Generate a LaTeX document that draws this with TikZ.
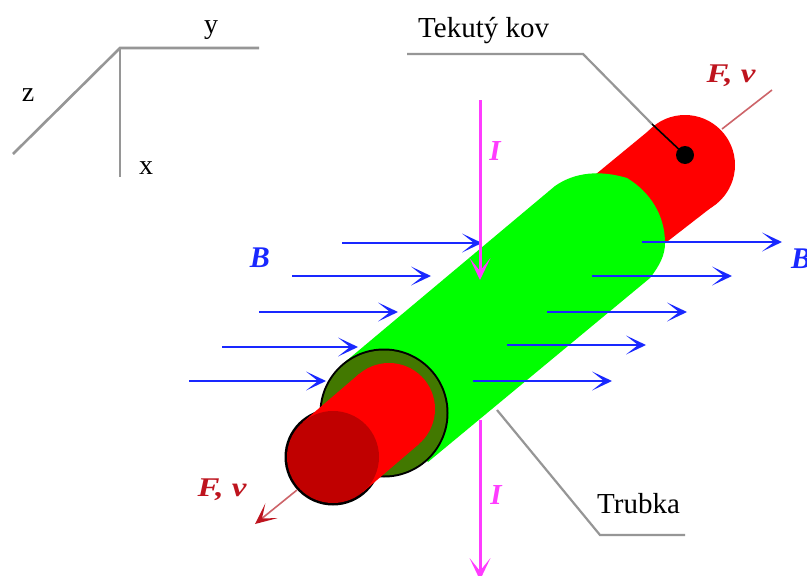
\documentclass[tikz,border=0pt]{standalone}
\usepackage{fontspec}
\setmainfont{Liberation Serif}
\usetikzlibrary{arrows.meta}
\definecolor{bluefield}{RGB}{25,40,255}
\definecolor{pinkcur}{RGB}{255,60,255}
\definecolor{darkgreenring}{RGB}{66,120,0}
\definecolor{darkredend}{RGB}{192,0,0}
\definecolor{forcered}{RGB}{190,20,30}
\definecolor{forceline}{RGB}{205,100,105}
\definecolor{leader}{RGB}{150,150,150}
\tikzset{
  fieldarrow/.style={draw=bluefield,line width=2.6pt,-{Stealth[length=20pt,width=19pt,inset=12pt,line width=0pt]}},
  current/.style={draw=pinkcur,line width=3pt},
  currenttip/.style={-{Stealth[length=22pt,width=21pt,inset=13pt,line width=0pt]}},
  leaderline/.style={draw=leader,line width=2.2pt},
  axisline/.style={draw=leader,line width=2.6pt},
  forcearrow/.style={draw=forceline,line width=1.6pt},
  forcetip/.style={-{Stealth[length=21pt,width=19pt,inset=12pt,line width=0pt,color=forcered]}},
  txt/.style={font=\fontsize{29}{31}\selectfont,text=black,inner sep=0pt},
  axlabel/.style={font=\fontsize{28}{30}\selectfont,text=black,inner sep=0pt,anchor=base},
  fieldlabel/.style={font=\fontsize{30}{32}\selectfont\bfseries\itshape,text=bluefield,inner sep=0pt},
  curlabel/.style={font=\fontsize{29}{31}\selectfont\bfseries\itshape,text=pinkcur,inner sep=0pt},
  forcelabel/.style={font=\fontsize{27}{29}\selectfont\bfseries\itshape,text=forcered,inner sep=0pt}
}
\begin{document}
\begin{tikzpicture}[x=1pt,y=-1pt]
\clip (0,0) rectangle (807,576);
\fill[white] (0,0) rectangle (807,576);
% axes
\coordinate (o) at (120,48);
\coordinate (ya) at (259,48);
\coordinate (xa) at (120,177);
\coordinate (za) at (13,154);
\draw[axisline] (za) -- (o) -- (ya);
\draw[axisline] (o) -- (xa);
\node[axlabel] (zl) at (28,101) {z};
\node[axlabel] (yl) at (211,33) {y};
\node[axlabel] (xl) at (146,174) {x};
% far end of liquid metal
\coordinate (fv1a) at (722,129);
\coordinate (fv1b) at (772,90);
\draw[forcearrow] (fv1a) -- (fv1b);
\fill[red] (685,165) circle[radius=50];
\fill[red] (652,128) -- (717,203) -- (650,255) -- (590,179) -- cycle;
% tube
\fill[green] (345,362) -- (555,186) .. controls (575,172) and (600,170) .. (627,178)
  .. controls (650,192) and (665,215) .. (665,243)
  .. controls (665,255) and (660,265) .. (650,278) -- (428,462) -- cycle;
% tube mouth
\fill[black] (384,413) circle[radius=64.5];
\fill[darkgreenring] (384,413) circle[radius=62.5];
% near end of liquid metal
\fill[black] (333,457) circle[radius=48.5];
\fill[red] (389,409) circle[radius=46];
\fill[red] (303,422) -- (359,374) -- (419,444) -- (363,492) -- cycle;
\fill[darkredend] (333,457) circle[radius=46];
% leaders
\coordinate (t1) at (407,54);
\coordinate (t2) at (583,54);
\coordinate (tin) at (652,124);
\node[circle,fill=black,minimum size=18pt,inner sep=0pt] (dot) at (685,155) {};
\draw[leaderline] (t1) -- (t2) -- (tin);
\draw[black,line width=1.6pt] (tin) -- (dot.center);
\coordinate (r1) at (497,410);
\coordinate (r2) at (600,535);
\coordinate (r3) at (685,535);
\draw[leaderline] (r1) -- (r2) -- (r3);
\node[txt,anchor=base west] (tek) at (418,37) {Tekutý kov};
\node[txt,anchor=base west] (tru) at (597,513) {Trubka};
% force near
\coordinate (fv2a) at (297,490);
\coordinate (fv2b) at (255,524);
\draw[forcearrow,forcetip] (fv2a) -- (fv2b);
\node[forcelabel] (fvt) at (731,76) {\scalebox{1.22}[1]{F, v}};
\node[forcelabel] (fvb) at (222,490) {\scalebox{1.22}[1]{F, v}};
% current
\coordinate (i1) at (480,100);
\coordinate (i2) at (480,280);
\coordinate (i3) at (480,420);
\coordinate (i4) at (480,580);
% field, left
\coordinate (la1) at (342,243); \coordinate (lb1) at (482,243);
\coordinate (la2) at (292,276); \coordinate (lb2) at (431,276);
\coordinate (la3) at (259,312); \coordinate (lb3) at (398,312);
\coordinate (la4) at (222,347); \coordinate (lb4) at (358,347);
\coordinate (la5) at (189,381); \coordinate (lb5) at (326,381);
% field, right
\coordinate (ra1) at (642,242); \coordinate (rb1) at (782,242);
\coordinate (ra2) at (592,276); \coordinate (rb2) at (732,276);
\coordinate (ra3) at (547,312); \coordinate (rb3) at (687,312);
\coordinate (ra4) at (507,345); \coordinate (rb4) at (646,345);
\coordinate (ra5) at (473,381); \coordinate (rb5) at (612,381);
\foreach \n in {1,...,5}{
  \draw[fieldarrow] (la\n) -- (lb\n);
  \draw[fieldarrow] (ra\n) -- (rb\n);
}
\draw[current,currenttip] (i1) -- (i2);
\draw[current,currenttip] (i3) -- (i4);
\node[curlabel] (il1) at (495,151) {I};
\node[curlabel] (il2) at (496,495) {I};
\node[fieldlabel] (bl) at (260,258) {B};
\node[fieldlabel] (br) at (801,259) {B};
\end{tikzpicture}
\end{document}
